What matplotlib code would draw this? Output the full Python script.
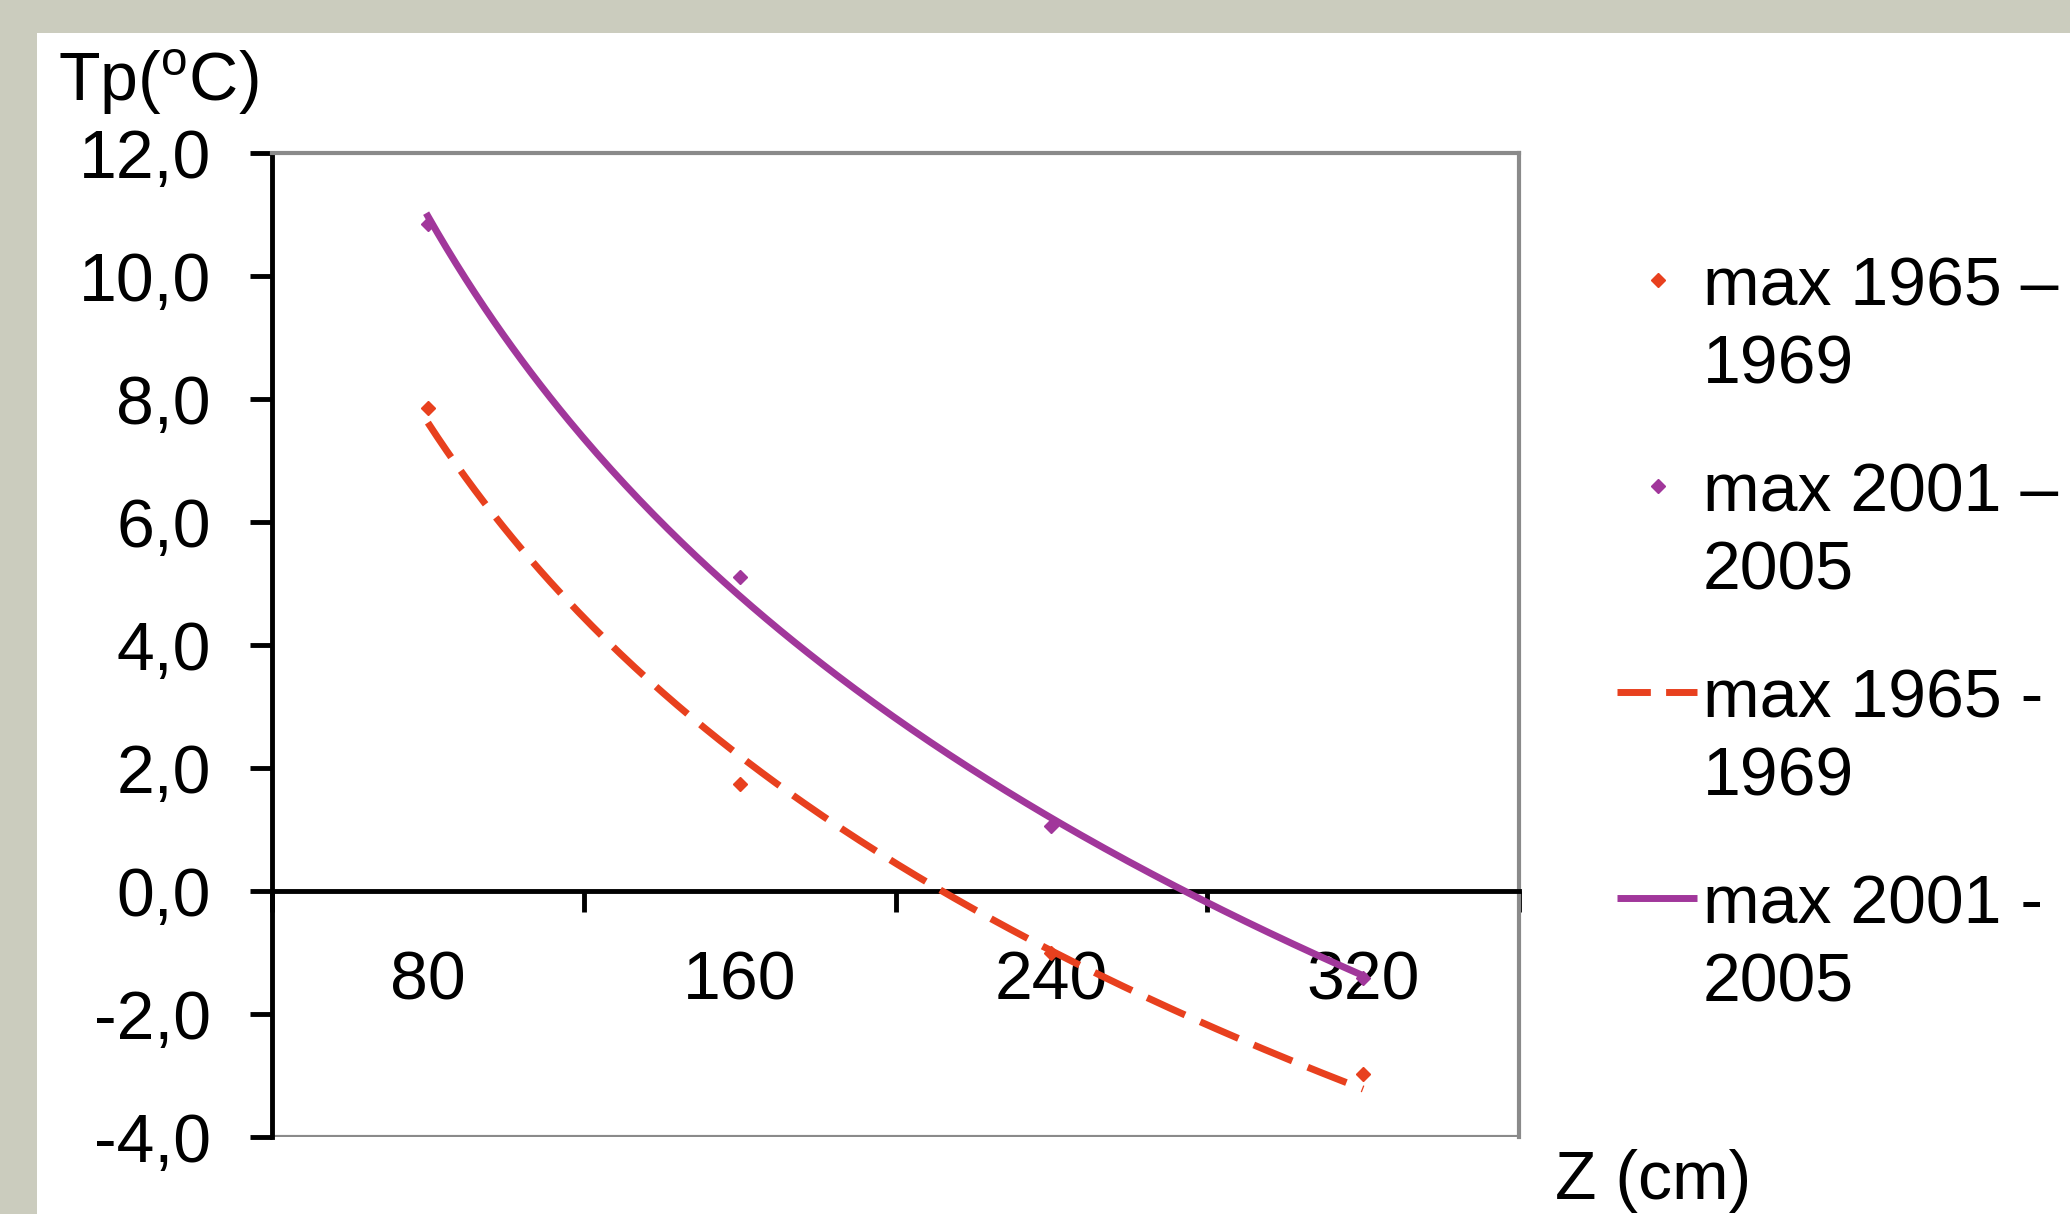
import numpy as np
import matplotlib
matplotlib.use("Agg")
import matplotlib.pyplot as plt
from matplotlib.lines import Line2D
from matplotlib.patches import Rectangle

plt.rcParams['font.family'] = ['Liberation Sans', 'DejaVu Sans']
plt.rcParams['mathtext.fontset'] = 'custom'
plt.rcParams['mathtext.rm'] = 'Liberation Sans'

# ===== data =====
depths = ["80", "160", "240", "320"]
max_1965_1969 = [7.85, 1.74, -1.0, -2.97]
max_2001_2005 = [10.85, 5.10, 1.05, -1.42]

legend_labels = ["max 1965 –\n1969", "max 2001 –\n2005",
                 "max 1965 -\n1969", "max 2001 -\n2005"]
y_ticks = [-4, -2, 0, 2, 4, 6, 8, 10, 12]

RED = "#E8401E"
PURPLE = "#A1379B"
FS = 49
LW = 5
MS = 7.5

W, H = 2070, 1214
fig = plt.figure(figsize=(W / 100, H / 100), dpi=100)
fig.patch.set_facecolor("#CBCCBE")
# white slide panel (behind the axes)
fig.patches.append(Rectangle((37 / W, 0), 1, 1 - 33 / H, transform=fig.transFigure,
                             facecolor="white", edgecolor="none", zorder=-5))

ax = fig.add_axes([272 / W, 1 - 1137 / H, (1519 - 272) / W, (1137 - 153) / H])
ax.set_zorder(2)
ax.set_facecolor("white")

x = np.arange(1, len(depths) + 1)

# scatter points
ax.plot(x, max_1965_1969, linestyle="none", marker="D", markersize=MS, color=RED, zorder=4)
ax.plot(x, max_2001_2005, linestyle="none", marker="D", markersize=MS, color=PURPLE, zorder=4)

# logarithmic trendlines (as in Excel)
xs = np.linspace(1, len(depths), 200)
for vals, col, ls in [(max_1965_1969, RED, "--"), (max_2001_2005, PURPLE, "-")]:
    a, b = np.polyfit(np.log(x), vals, 1)
    ln, = ax.plot(xs, a * np.log(xs) + b, color=col, linewidth=LW, zorder=3)
    if ls == "--":
        ln.set_dashes((6, 2.4))

ax.set_xlim(0.5, len(depths) + 0.5)
ax.set_ylim(-4, 12)

# spines
ax.spines["left"].set_color("black")
ax.spines["left"].set_linewidth(3.5)
ax.spines["bottom"].set_position(("data", 0))
ax.spines["bottom"].set_color("black")
ax.spines["bottom"].set_linewidth(3.5)
for s in ["top", "right"]:
    ax.spines[s].set_color("#8a8a8a")
    ax.spines[s].set_linewidth(3)
ax.axhline(-4, color="#8a8a8a", linewidth=3, zorder=1)

# y axis
ax.set_yticks(y_ticks)
ax.set_yticklabels([f"{v:.1f}".replace(".", ",") for v in y_ticks])
ax.tick_params(axis="y", direction="out", length=16, width=3.5, pad=28, labelsize=FS, color="black")

# x axis: category boundaries as ticks, labels at centres
ax.set_xticks(np.arange(0.5, len(depths) + 1, 1))
ax.set_xticklabels([])
ax.set_xticks(x, minor=True)
ax.set_xticklabels(depths, minor=True)
ax.tick_params(axis="x", which="major", direction="out", length=15, width=3.5, color="black")
ax.tick_params(axis="x", which="minor", length=0, pad=42, labelsize=FS)

# axis titles
fig.text(58 / W, 1 - 102 / H, r"Tp($^{\mathrm{o}}$C)", fontsize=FS, va="baseline", ha="left")
fig.text(1555 / W, 1 - 1199 / H, "Z (cm)", fontsize=FS, va="baseline", ha="left")

# legend drawn by hand: handle on the first line of each label
handles = [
    dict(marker="D", linestyle="none", color=RED),
    dict(marker="D", linestyle="none", color=PURPLE),
    dict(linestyle="--", color=RED, dashes=(4.8, 2.2)),
    dict(linestyle="-", color=PURPLE),
]
y0, entry_step, line_step = 280, 206, 79
for i, (lab, h) in enumerate(zip(legend_labels, handles)):
    yc = y0 + i * entry_step
    if h["linestyle"] == "none":
        fig.add_artist(Line2D([1658 / W], [1 - yc / H], transform=fig.transFigure,
                              marker="D", markersize=MS, color=h["color"], linestyle="none"))
    else:
        kw = {"dashes": h["dashes"]} if "dashes" in h else {}
        fig.add_artist(Line2D([1617 / W, 1697 / W], [1 - yc / H, 1 - yc / H],
                              transform=fig.transFigure, color=h["color"], linewidth=LW,
                              solid_capstyle="butt", dash_capstyle="butt", **kw))
    for j, part in enumerate(lab.split("\n")):
        fig.text(1703 / W, 1 - (yc + j * line_step) / H, part, fontsize=FS,
                 va="center_baseline", ha="left")

fig.savefig("out.png", dpi=100, facecolor=fig.get_facecolor())
